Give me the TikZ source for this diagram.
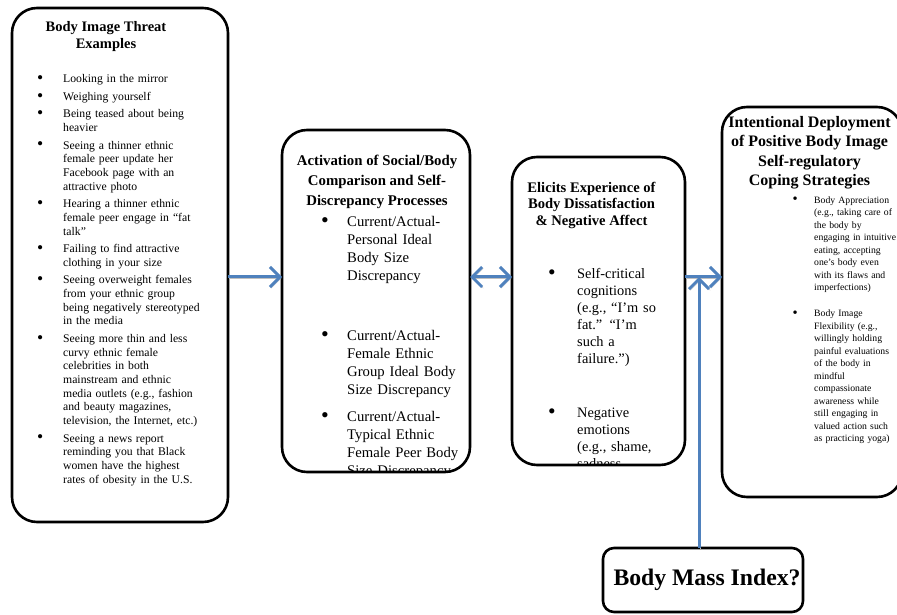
\documentclass[tikz,border=0pt]{standalone}
\usepackage{fontspec}
\setmainfont{Liberation Serif}
\usetikzlibrary{arrows.meta}
\definecolor{flowblue}{RGB}{79,129,189}
\newlength{\bulsep}
\newcommand{\itm}[1][0pt]{\par\vspace{#1}\noindent\llap{\raisebox{-0.12ex}{\scalebox{1.5}{\textbullet}}\hspace{\bulsep}}\ignorespaces}

\begin{document}
\begin{tikzpicture}[x=1pt, y=1pt,
  panel/.style={draw, line width=2.6pt, rounded corners=25pt, inner sep=0pt, outer sep=0pt},
  head/.style={anchor=north, align=center, inner sep=0pt},
  items/.style={anchor=north west, align=left, inner sep=0pt},
  link/.style={draw=flowblue, line width=3pt,
    preaction={draw=black!25, transform canvas={shift={(1.2pt,-1.2pt)}}}},
  >={Straight Barb[length=10pt,width=20pt]}]

\useasboundingbox (0,0) rectangle (897,614);

% boxes
\node[panel, minimum width=216, minimum height=514] (threat) at (120,349) {};
\node[panel, minimum width=188, minimum height=342] (compare) at (376,313) {};
\node[panel, minimum width=173, minimum height=308] (affect) at (598.5,303) {};
\node[panel, minimum width=180, minimum height=390] (coping) at (812,312) {};
\node[panel, rounded corners=11pt, minimum width=200, minimum height=64,
      font=\fontsize{23.7}{28}\selectfont\bfseries] (bmi) at (703,34) {\hspace*{8pt}Body Mass Index?};

% headings
\node[head, font=\fontsize{14.5}{17}\selectfont\bfseries] (threat head) at (106,593)
  {Body Image Threat\\Examples};
\node[head, font=\fontsize{14.8}{20}\selectfont\bfseries] (compare head) at (377,459.3)
  {Activation of Social/Body\\Comparison and Self-\\Discrepancy Processes};
\node[head, font=\fontsize{14.6}{16.7}\selectfont\bfseries] (affect head) at (591.5,432.3)
  {Elicits Experience of\\Body Dissatisfaction\\\& Negative Affect};
\node[head, font=\fontsize{16}{19.3}\selectfont\bfseries] (coping head) at (809.5,497.8)
  {Intentional Deployment\\of Positive Body Image\\Self-regulatory\\Coping Strategies};

% lists
\node[items, text width=160, font=\fontsize{11.7}{13.7}\selectfont\setlength{\bulsep}{20pt}]
  (threat list) at (63,545) {%
\itm Looking in the mirror
\itm[3.8pt] Weighing yourself
\itm[3.8pt] Being teased about being\\heavier
\itm[3.8pt] Seeing a thinner ethnic\\female peer update her\\Facebook page with an\\attractive photo
\itm[3.8pt] Hearing a thinner ethnic\\female peer engage in “fat\\talk”
\itm[3.8pt] Failing to find attractive\\clothing in your size
\itm[3.8pt] Seeing overweight females\\from your ethnic group\\being negatively stereotyped\\in the media
\itm[3.8pt] Seeing more thin and less\\curvy ethnic female\\celebrities in both\\mainstream and ethnic\\media outlets (e.g., fashion\\and beauty magazines,\\television, the Internet, etc.)
\itm[3.8pt] Seeing a news report\\reminding you that Black\\women have the highest\\rates of obesity in the U.S.};

\begin{scope}
\clip (compare.south west) rectangle (compare.north east);
\node[items, text width=125, font=\fontsize{14.7}{18}\selectfont\setlength{\bulsep}{18.4pt}]
  (compare list) at (347,406) {%
\itm Current/Actual-\\Personal Ideal\\Body Size\\Discrepancy
\itm[42pt] Current/Actual-\\Female Ethnic\\Group Ideal Body\\Size Discrepancy
\itm[9pt] Current/Actual-\\Typical Ethnic\\Female Peer Body\\Size Discrepancy};
\end{scope}

\begin{scope}
\clip (affect.south west) rectangle (affect.north east);
\node[items, text width=105, font=\fontsize{14.4}{17}\selectfont\setlength{\bulsep}{21.5pt}]
  (affect list) at (577,352.2) {%
\itm Self-critical\\cognitions\\(e.g., “I’m so\\fat.” “I’m\\such a\\failure.”)
\itm[37pt] Negative\\emotions\\(e.g., shame,\\sadness,};
\end{scope}

\node[items, text width=85, font=\fontsize{9.7}{12.5}\selectfont\setlength{\bulsep}{16.5pt}]
  (coping list) at (814,423.6) {%
\itm Body Appreciation\\(e.g., taking care of\\the body by\\engaging in intuitive\\eating, accepting\\one’s body even\\with its flaws and\\imperfections)
\itm[13.5pt] Body Image\\Flexibility (e.g.,\\willingly holding\\painful evaluations\\of the body in\\mindful\\compassionate\\awareness while\\still engaging in\\valued action such\\as practicing yoga)};

% arrows
\coordinate (flow) at (0,337);
\coordinate (bmitop) at ([xshift=-4pt]bmi.north);
\draw[link, ->] (threat.east |- flow) -- (compare.west |- flow);
\draw[link, <->] (compare.east |- flow) -- (affect.west |- flow);
\draw[link, ->] (affect.east |- flow) -- (coping.west |- flow);
\draw[link, ->] (bmitop) -- (bmitop |- flow);

\end{tikzpicture}
\end{document}
